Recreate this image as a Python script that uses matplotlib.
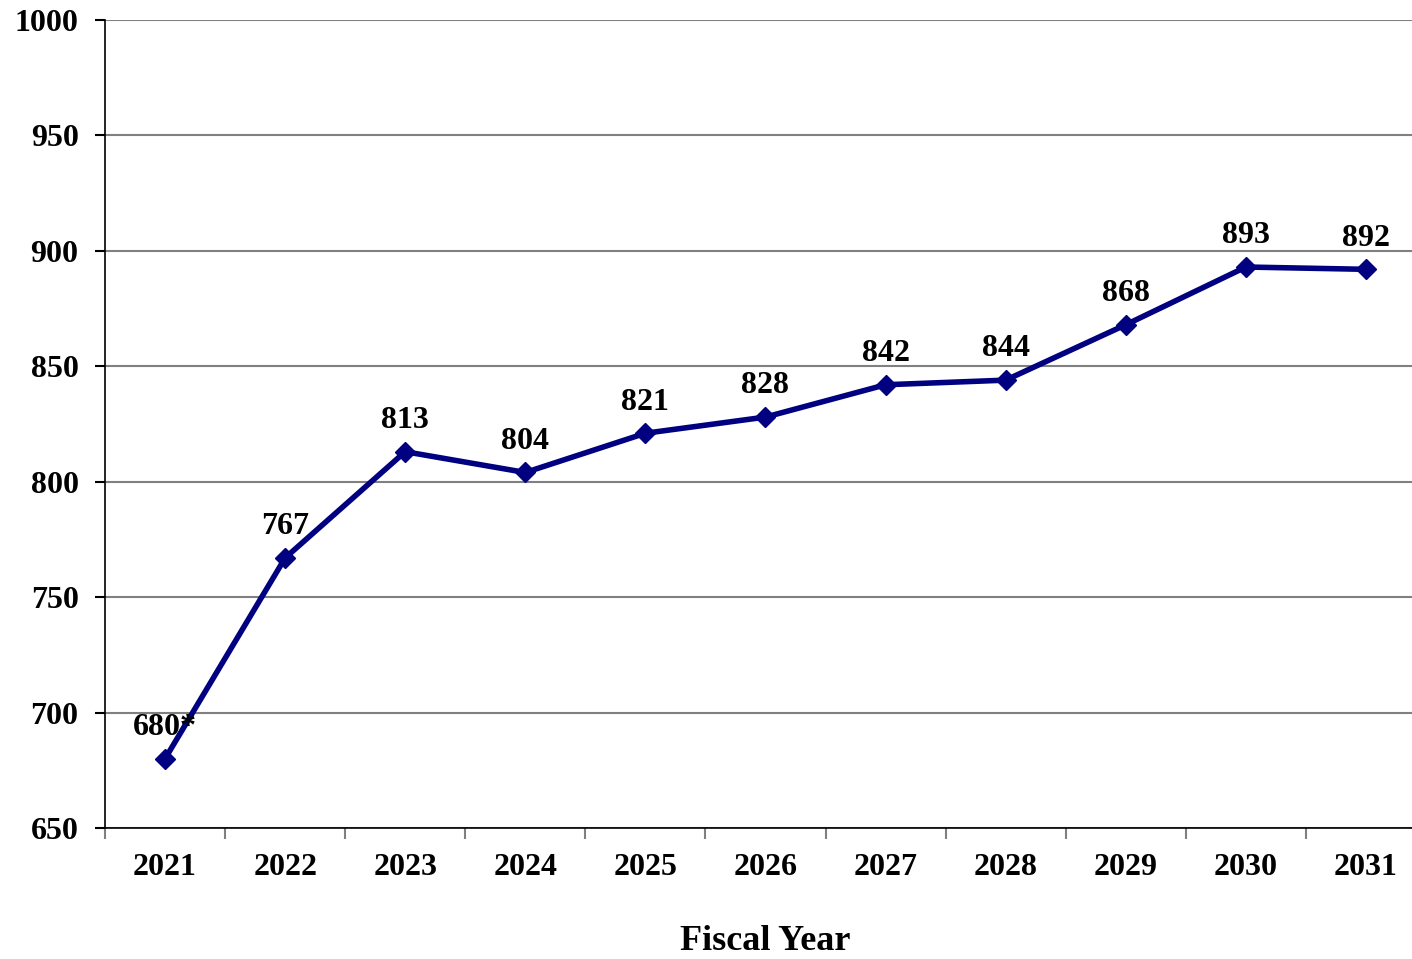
import matplotlib
matplotlib.use('Agg')
import matplotlib.pyplot as plt

# fiscal years and projected values
years = ['2021', '2022', '2023', '2024', '2025', '2026', '2027', '2028', '2029', '2030', '2031']
values = [680, 767, 813, 804, 821, 828, 842, 844, 868, 893, 892]
labels = ['680*', '767', '813', '804', '821', '828', '842', '844', '868', '893', '892']

plt.rcParams['font.family'] = ['Liberation Serif', 'DejaVu Serif']
plt.rcParams['font.weight'] = 'bold'

fig = plt.figure(figsize=(14.12, 9.59), dpi=100)
ax = fig.add_axes([105 / 1412, 131 / 959, 1321 / 1412, 808 / 959])

x = list(range(len(years)))
ax.plot(x, values, color='#000080', linewidth=4, marker='D', markersize=10,
        markeredgecolor='#000080', markerfacecolor='#000080', zorder=3)

for xi, v, lab in zip(x, values, labels):
    ax.annotate(lab, (xi, v), xytext=(0, 12), textcoords='offset points',
                ha='center', va='bottom', fontsize=23, fontweight='bold')

ax.set_xlim(-0.5, len(years) - 0.5)
ax.set_ylim(650, 1000)
ax.set_yticks(range(650, 1001, 50))
ax.set_xticks(x)
ax.set_xticklabels(years)
ax.set_xticks([i - 0.5 for i in range(len(years) + 1)], minor=True)

ax.tick_params(axis='x', which='major', length=0, pad=18, labelsize=23)
ax.tick_params(axis='x', which='minor', length=8, width=1.5, color='#808080', direction='out')
ax.tick_params(axis='y', length=7, width=1.5, pad=12, labelsize=23, direction='out')
for lab in ax.get_xticklabels() + ax.get_yticklabels():
    lab.set_fontweight('bold')

ax.grid(axis='y', color='#808080', linewidth=1.5)
ax.set_axisbelow(True)
ax.spines['top'].set_visible(False)
ax.spines['right'].set_visible(False)
ax.spines['left'].set_linewidth(1.2)
ax.spines['bottom'].set_linewidth(1.2)

ax.set_xlabel('Fiscal Year', fontsize=26, fontweight='bold', labelpad=31)

fig.savefig('out.png', dpi=100)
